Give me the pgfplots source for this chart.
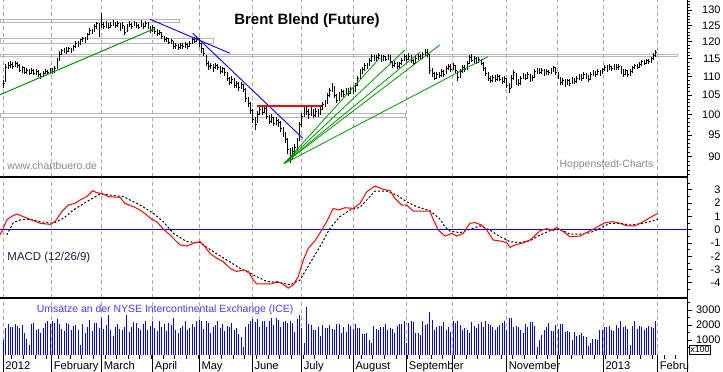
\documentclass[border=0pt]{standalone}
\usepackage{pgfplots}
\pgfplotsset{compat=1.18}
\usepackage{pgfplotstable}
\usepackage{fontspec}
\setmainfont{Liberation Sans}

\definecolor{gridc}{RGB}{175,165,180}
\definecolor{boxc}{RGB}{185,180,190}
\definecolor{trendgreen}{RGB}{0,150,0}
\definecolor{wmgray}{RGB}{135,135,150}
\definecolor{macdtext}{RGB}{30,30,80}
\definecolor{voltext}{RGB}{70,60,255}

\pgfdeclareplotmark{rtick}{%
  \pgfpathmoveto{\pgfqpoint{0pt}{0pt}}%
  \pgfpathlineto{\pgfqpoint{1.4pt}{0pt}}%
  \pgfusepathqstroke}

\pgfplotstableread{
i hi lo cl vol
0 109.1 107.0 108.0 1000
1 113.6 108.5 112.5 1780
2 114.0 112.0 113.2 2100
3 114.3 112.4 113.5 1880
4 114.0 112.0 112.8 1900
5 114.3 112.6 113.6 2050
6 114.2 112.3 113.0 1950
7 113.5 111.3 111.8 1780
8 113.0 111.0 112.4 1980
9 112.6 110.7 111.2 1450
10 112.3 110.6 111.6 1100
11 112.0 110.4 110.9 700
12 112.3 110.8 111.7 2050
13 112.0 110.3 110.8 2150
14 112.1 110.5 111.4 1700
15 111.7 110.0 110.5 1760
16 111.0 109.3 110.1 1450
17 111.5 109.9 110.9 1780
18 112.0 110.6 111.3 2150
19 111.9 110.3 111.0 2300
20 112.5 110.8 112.0 2050
21 112.3 110.7 111.4 2250
22 112.9 111.1 112.2 2150
23 115.2 112.0 114.6 2400
24 117.2 114.5 116.4 2050
25 118.0 116.2 117.3 1750
26 118.3 116.8 117.8 1600
27 118.4 116.5 117.1 2150
28 118.6 116.9 118.0 2100
29 118.3 116.8 117.3 1700
30 119.0 117.2 118.5 1950
31 120.2 118.3 119.6 2000
32 120.3 118.6 119.0 1650
33 121.0 119.0 120.6 670
34 121.6 120.0 121.0 2050
35 121.5 119.8 120.4 1450
36 122.8 120.5 122.2 1900
37 124.2 122.0 123.5 2350
38 124.0 122.3 123.0 1600
39 125.5 123.0 124.8 2150
40 126.2 124.0 125.6 2150
41 125.8 121.5 123.7 1800
42 129.0 124.2 125.5 2450
43 126.0 123.8 124.6 1750
44 126.3 124.3 125.6 2000
45 125.9 123.9 124.5 2660
46 126.0 124.2 125.2 1650
47 126.8 124.8 125.8 1300
48 126.2 124.4 125.0 1900
49 126.5 124.6 125.6 2050
50 125.8 123.2 124.0 1750
51 126.0 124.0 125.2 1700
52 125.0 122.0 123.0 1900
53 125.5 123.0 124.8 2660
54 126.4 124.5 125.4 1550
55 125.8 124.0 124.6 1900
56 126.5 124.8 125.7 2200
57 126.2 124.2 125.0 2150
58 125.6 123.8 124.4 1800
59 126.8 124.5 125.5 1700
60 125.9 124.0 124.8 2050
61 126.3 124.5 125.7 2300
62 126.0 124.0 124.8 1700
63 125.0 122.8 123.5 1950
64 125.2 123.0 124.3 2300
65 124.6 122.5 123.2 1800
66 123.8 121.8 122.6 1600
67 123.7 122.0 123.0 2250
68 123.0 120.8 121.5 1900
69 121.8 119.9 120.6 2050
70 121.6 120.0 121.0 1600
71 121.2 119.3 119.9 2150
72 121.0 119.4 120.4 2000
73 120.2 118.0 118.6 2450
74 119.8 118.0 118.9 1700
75 119.5 117.5 118.2 1450
76 119.7 117.9 119.0 1800
77 119.6 117.8 118.5 1950
78 120.0 118.2 119.2 2250
79 119.6 118.0 118.6 1700
80 120.3 118.5 119.6 1800
81 121.3 119.5 120.6 2050
82 121.4 119.7 120.2 1900
83 121.8 120.0 121.0 2250
84 121.2 118.5 119.4 2350
85 119.6 116.8 118.0 2300
86 118.2 115.9 116.6 1750
87 116.0 113.0 113.8 2250
88 114.5 111.8 112.8 2150
89 113.8 112.0 113.0 1500
90 113.5 111.4 112.4 1850
91 113.8 112.0 113.0 2000
92 113.6 111.9 112.6 2300
93 112.9 110.8 111.5 1800
94 112.8 110.9 112.2 2100
95 112.4 110.2 111.0 1600
96 111.3 108.9 109.5 1950
97 110.0 107.6 108.5 1850
98 110.2 108.0 109.3 2150
99 109.6 107.0 107.6 1700
100 108.8 106.8 108.0 1800
101 108.5 106.1 106.9 1400
102 108.5 106.6 107.8 1200
103 108.0 105.8 106.5 560
104 106.8 103.3 104.0 1900
105 104.5 101.9 102.8 2050
106 103.2 100.2 101.0 2300
107 101.5 98.0 98.8 2400
108 99.5 96.3 97.5 2200
109 100.8 97.8 100.0 2400
110 102.2 99.8 101.3 1900
111 102.0 99.8 100.6 2300
112 102.4 100.4 101.5 2300
113 101.8 98.8 99.6 1850
114 100.0 97.6 98.4 2250
115 100.2 98.0 99.2 2450
116 99.5 97.2 97.9 2000
117 99.4 97.4 98.6 2450
118 99.0 97.0 98.0 2350
119 98.3 95.8 96.6 1850
120 97.0 94.4 95.2 2200
121 95.8 93.2 94.0 2300
122 94.3 90.5 91.5 2150
123 92.0 88.5 89.6 2300
124 92.2 89.4 91.2 2150
125 92.8 90.3 92.0 1550
126 94.2 91.5 93.4 2400
127 98.2 93.5 97.5 2650
128 100.5 97.0 99.6 1800
129 102.3 99.5 101.6 780
130 102.3 99.8 100.8 3220
131 101.3 99.0 100.0 2100
132 101.8 99.6 101.2 2000
133 101.5 99.2 99.8 1650
134 101.6 99.5 100.9 1700
135 101.5 99.4 100.2 1900
136 102.0 100.0 101.4 1300
137 103.2 101.2 102.6 2000
138 103.8 102.0 103.0 1800
139 105.5 102.8 104.8 1800
140 106.9 104.5 106.2 2000
141 108.2 105.9 107.6 1750
142 107.5 104.2 105.0 1650
143 105.4 102.9 103.6 2050
144 105.8 103.4 105.0 2050
145 106.5 104.6 105.9 1500
146 106.4 104.6 105.2 1850
147 107.0 105.0 106.3 1550
148 106.8 104.8 105.5 2100
149 107.2 105.3 106.6 1950
150 107.2 105.2 105.9 1750
151 108.2 105.8 107.6 2100
152 110.2 107.5 109.5 1780
153 112.0 109.4 111.2 1780
154 112.8 110.8 112.0 1400
155 113.8 111.6 113.2 1400
156 113.8 112.0 112.6 1450
157 115.2 112.9 114.6 1000
158 116.3 114.2 115.6 780
159 116.1 114.3 114.8 1950
160 116.0 114.3 115.4 1750
161 116.6 114.8 116.0 1700
162 116.2 114.2 114.8 1900
163 116.2 114.5 115.6 1850
164 115.9 114.3 114.9 2050
165 116.4 114.7 115.8 1650
166 116.0 113.5 114.2 1800
167 114.5 112.4 113.0 1750
168 114.3 112.6 113.6 1450
169 114.0 112.2 112.8 1950
170 114.2 112.5 113.6 2050
171 115.2 113.3 114.6 2100
172 116.3 114.3 115.6 2300
173 116.0 114.1 114.7 780
174 116.6 114.8 115.8 2150
175 116.0 113.8 114.4 2250
176 115.0 113.2 113.8 2200
177 115.7 113.6 115.0 1450
178 116.4 114.6 115.8 1450
179 116.5 114.6 115.2 1350
180 117.0 115.0 116.4 2250
181 117.8 115.8 116.9 2000
182 117.9 115.6 116.2 2050
183 116.4 110.6 111.8 2850
184 112.5 109.8 110.8 2350
185 111.3 109.0 109.6 1650
186 111.2 109.2 110.6 1850
187 111.3 109.5 110.2 1950
188 112.0 110.0 111.4 1950
189 111.8 109.8 110.6 2200
190 112.9 110.6 112.3 1650
191 113.6 111.8 112.9 1850
192 113.4 111.4 112.0 1550
193 113.7 111.8 113.0 2300
194 113.2 111.0 111.8 2150
195 111.6 108.9 109.8 2300
196 112.0 109.6 111.4 2000
197 113.2 111.0 112.5 1700
198 113.3 111.4 112.0 1800
199 114.4 111.9 113.8 1700
200 116.0 113.6 115.3 1450
201 116.3 114.0 114.6 2200
202 115.7 113.9 115.0 1950
203 115.4 113.4 114.0 1800
204 115.5 113.8 114.8 2050
205 115.0 113.2 113.8 2200
206 114.0 111.5 112.2 1900
207 112.6 110.2 110.8 2300
208 111.2 108.8 109.6 2050
209 110.2 108.3 109.0 2000
210 110.4 108.6 109.8 1900
211 110.3 108.5 109.2 1650
212 110.6 108.9 109.9 1850
213 110.5 108.7 109.3 2000
214 109.9 108.0 108.6 2150
215 110.1 108.3 109.4 2300
216 109.5 107.0 107.6 1650
217 108.3 105.6 106.8 2450
218 110.4 106.9 109.5 2500
219 111.9 109.0 111.2 1900
220 111.0 107.8 108.6 1950
221 109.3 107.3 108.0 1850
222 110.2 107.8 109.6 1700
223 111.0 109.2 110.3 1500
224 110.8 109.0 109.6 2050
225 111.2 109.4 110.5 1850
226 110.6 108.6 109.2 2200
227 110.4 108.8 109.8 2200
228 112.0 109.6 111.3 1950
229 112.4 110.8 111.9 560
230 112.3 110.6 111.2 1000
231 112.4 110.8 111.8 1350
232 112.0 110.2 110.8 1700
233 112.1 110.4 111.5 1850
234 111.9 110.3 111.0 2150
235 112.5 110.6 111.8 1600
236 113.0 111.2 112.4 1600
237 112.6 110.4 111.0 2000
238 111.4 109.2 109.8 1750
239 110.0 107.8 108.4 2050
240 109.6 107.8 108.9 2100
241 109.4 107.2 108.2 1550
242 109.4 107.6 108.8 1600
243 109.2 107.4 108.2 1550
244 109.8 108.0 109.2 1000
245 109.6 108.0 108.6 1550
246 110.1 108.3 109.5 1300
247 110.8 109.0 110.2 1350
248 110.6 108.8 109.4 1500
249 111.2 109.4 110.6 1300
250 111.0 109.4 110.0 1200
251 110.4 108.6 109.2 600
252 111.2 109.0 110.6 780
253 111.8 110.2 111.2 1050
254 111.6 110.0 110.7 1100
255 112.0 110.4 111.4 1000
256 111.8 110.2 110.9 1700
257 112.4 110.6 111.9 1650
258 113.2 111.6 112.6 1900
259 113.2 111.4 112.0 1850
260 113.4 111.8 112.8 1950
261 113.0 111.5 112.2 1700
262 113.6 111.9 113.0 1600
263 113.4 111.8 112.4 2000
264 113.5 111.9 112.9 1800
265 113.0 110.8 111.6 2300
266 112.0 110.0 110.6 1900
267 112.2 110.3 111.6 1950
268 111.8 109.9 110.5 1750
269 112.0 110.2 111.3 700
270 113.0 111.0 112.4 1950
271 113.6 112.0 113.0 2300
272 113.6 112.0 112.6 1750
273 114.0 112.4 113.5 1950
274 114.8 113.0 114.2 1900
275 114.8 113.2 113.8 1650
276 115.0 113.4 114.5 1800
277 115.0 113.6 114.2 1950
278 115.6 113.9 115.0 1850
279 116.6 114.8 116.0 1800
280 117.6 115.6 116.9 2250
}\price

\pgfplotstableread{
x m
-1.5 -0.40
-0.1 0.10
1.4 0.73
3.5 1.00
5.7 1.18
8.5 0.98
11.4 0.78
15.7 0.48
20.0 0.40
22.1 0.60
25.0 1.35
27.8 1.85
30.7 1.98
32.8 2.23
35.7 2.48
38.3 2.93
40.0 2.78
42.1 2.73
45.0 2.48
50.0 2.43
52.1 1.98
55.7 1.73
58.6 1.48
61.5 1.10
63.6 0.78
65.8 0.60
68.6 0.03
71.5 -0.40
73.6 -0.78
75.8 -1.15
78.6 -1.23
81.5 -1.03
84.3 -0.90
86.5 -1.28
88.6 -1.78
91.5 -2.15
94.3 -2.40
97.2 -2.90
100.1 -3.15
102.9 -3.03
105.1 -3.15
107.2 -3.78
108.7 -4.08
111.5 -4.08
115.1 -4.08
117.3 -3.90
119.4 -4.03
122.2 -4.40
124.4 -4.15
126.5 -3.53
128.7 -2.28
130.8 -1.40
133.7 -0.83
136.6 -0.03
138.7 0.60
141.5 1.60
143.7 1.48
146.6 1.65
150.1 1.60
153.0 1.98
155.9 2.85
159.4 3.28
163.0 3.03
165.9 2.93
168.0 2.35
170.9 1.85
173.0 1.85
175.9 1.40
183.0 1.40
184.5 0.73
186.6 -0.03
189.5 -0.48
192.4 -0.28
194.5 -0.48
197.3 -0.28
200.2 0.48
202.4 0.53
205.2 0.35
207.4 -0.03
210.2 -0.78
213.1 -0.85
216.0 -0.98
217.4 -1.33
219.5 -1.15
222.4 -1.03
226.0 -0.78
230.3 -0.08
233.1 0.08
235.3 -0.03
237.4 0.15
240.3 -0.15
243.1 -0.53
247.4 -0.48
251.0 -0.15
254.6 0.18
258.2 0.53
261.7 0.60
264.6 0.48
267.5 0.28
271.0 0.28
274.6 0.60
278.2 0.98
280.8 1.23
}\macd

\pgfplotstableread{
x s
1.4 -0.40
4.2 0.53
7.1 0.73
11.4 0.78
15.7 0.60
21.4 0.48
25.7 0.85
30.0 1.48
35.7 2.10
41.4 2.68
45.7 2.60
51.4 2.48
58.6 1.85
64.3 1.23
68.6 0.60
72.9 -0.28
78.6 -0.90
84.3 -0.98
90.0 -1.65
95.8 -2.28
101.5 -2.90
107.2 -3.40
113.0 -3.90
118.7 -3.98
123.0 -4.15
127.3 -3.78
131.5 -2.53
135.8 -1.28
140.1 0.10
144.4 0.98
148.7 1.48
153.0 1.68
155.9 2.23
159.4 2.90
164.5 2.90
168.8 2.60
173.0 2.10
177.3 1.73
183.0 1.43
187.3 0.80
189.5 0.20
191.6 -0.10
195.9 -0.23
200.2 0.03
204.5 0.28
208.8 -0.03
213.1 -0.53
217.4 -0.90
221.7 -0.98
226.0 -0.83
230.3 -0.40
234.5 -0.08
238.8 0.03
243.1 -0.33
247.4 -0.33
251.7 -0.23
256.0 0.10
260.3 0.48
264.6 0.48
268.9 0.35
273.2 0.43
277.5 0.60
280.8 0.78
}\signal

\pgfplotsset{
  panel/.style={
    scale only axis, width=687bp, xmin=-1.5, xmax=293.35,
    anchor=south west,
    axis line style={draw=none},
    xtick={-0.1,20.7,42.1,64.0,84.0,106.8,128.0,150.1,173.0,192.8,216.0,237.9,257.4,280.8},
    xticklabels={}, xmajorgrids,
    major grid style={gridc, dash pattern=on 4bp off 3bp, line width=0.8bp},
    ytick pos=right, yticklabel pos=right,
    tick align=outside, major tick length=5bp, minor tick length=2.5bp,
    tick style={black, line width=0.8bp},
    minor tick style={black, line width=0.6bp},
    xtick style={draw=none},
    every tick label/.append style={font=\fontsize{11}{13}\selectfont},
    yticklabel style={anchor=east, xshift=32bp},
    clip mode=individual,
  }
}

\begin{document}
\begin{tikzpicture}
\path[use as bounding box] (0bp,0bp) rectangle (723bp,372bp);
% price panel
\begin{axis}[panel, at={(0bp,195bp)}, height=177bp,
  ymode=log, ymin=85.5, ymax=133.3,
  ytick={90,95,100,105,110,115,120,125,130},
  yticklabels={90,95,100,105,110,115,120,125,130},
  minor ytick={86,87,88,89,91,92,93,94,96,97,98,99,101,102,103,104,106,107,108,109,111,112,113,114,116,117,118,119,121,122,123,124,126,127,128,129,131,132,133}]
\addplot[boxc, line width=0.8bp] coordinates {(-1.5,125.9)(75.5,125.9)(75.5,127.0)(-1.5,127.0)(-1.5,125.9)};
\addplot[boxc, line width=0.8bp] coordinates {(-1.5,119.6)(90.3,119.6)(90.3,121.1)(-1.5,121.1)(-1.5,119.6)};
\addplot[boxc, line width=0.8bp] coordinates {(-1.5,115.6)(289.1,115.6)(289.1,116.4)(-1.5,116.4)(-1.5,115.6)};
\addplot[boxc, line width=0.8bp] coordinates {(-1.5,99.3)(172.6,99.3)(172.6,100.3)(-1.5,100.3)(-1.5,99.3)};
\pgfplotsforeachungrouped \r in {0,...,280}{%
  \pgfplotstablegetelem{\r}{hi}\of\price \let\hv\pgfplotsretval
  \pgfplotstablegetelem{\r}{lo}\of\price \let\lv\pgfplotsretval
  \edef\doit{\noexpand\addplot[black, line width=0.9bp, forget plot] coordinates {(\r,\lv) (\r,\hv)};}%
  \doit
}
\addplot[black, only marks, mark=rtick, mark options={solid, line width=0.9bp}]
  table[x=i, y=cl] {\price};
\addplot[trendgreen, line width=1bp] coordinates {(-1.5,105.1)(65.0,124.1)};
\addplot[blue, line width=0.9bp] coordinates {(62.9,127.0)(97.2,116.6)};
\addplot[blue, line width=0.9bp] coordinates {(81.2,122.6)(128.4,94.25)};
\addplot[red, line width=1.3bp] coordinates {(108.7,102.2)(136.6,102.2)};
\addplot[trendgreen, line width=0.8bp] coordinates {(120.4,88.4)(161.6,115.3)};
\addplot[trendgreen, line width=0.8bp] coordinates {(120.4,88.4)(172.3,117.6)};
\addplot[trendgreen, line width=0.8bp] coordinates {(120.4,88.4)(178.8,117.0)};
\addplot[trendgreen, line width=0.8bp] coordinates {(120.4,88.4)(187.3,119.1)};
\addplot[trendgreen, line width=0.8bp] coordinates {(120.4,88.4)(207.9,115.6)};
\end{axis}
% MACD panel
\begin{axis}[panel, at={(0bp,74bp)}, height=121bp,
  ymin=-5.14, ymax=3.96,
  ytick={-4,-3,-2,-1,0,1,2,3},
  yticklabels={-4,-3,-2,-1,0,1,2,3},
  minor ytick={-4.5,-3.5,-2.5,-1.5,-0.5,0.5,1.5,2.5,3.5}]
\addplot[blue, line width=1.1bp] coordinates {(-1.5,0)(293.35,0)};
\addplot[black, line width=1bp, dash pattern=on 2bp off 2bp] table[x=x, y=s] {\signal};
\addplot[red, line width=1bp] table[x=x, y=m] {\macd};
\end{axis}
% volume panel
\begin{axis}[panel, at={(0bp,17bp)}, height=57bp,
  ymin=0, ymax=3800,
  ytick={1000,2000,3000}, yticklabels={1000,2000,3000},
  minor ytick={500,1500,2500,3500}]
\addplot[ycomb, blue, line width=1bp] table[x=i, y=vol] {\price};
\end{axis}
\begin{scope}[x=1bp,y=1bp]
% frame lines
\draw[black, line width=1.2bp] (0,195) -- (687,195);
\draw[black, line width=1.2bp] (0,74) -- (687,74);
\draw[black, line width=1bp] (687,0) -- (687,372);
\foreach \t in {3.3,51.7,101.7,152.7,199.3,252.3,301.7,353.3,406.7,452.7,506.7,557.7,603.3,657.7}
  \draw[black, line width=0.8bp] (\t,0) -- (\t,17);
\foreach \t in {11.6,23.25,...,686}
  \draw[black, line width=0.6bp] (\t,13.5) -- (\t,17);
% month labels
\begin{scope}[every node/.style={anchor=base west, inner sep=0pt, font=\fontsize{11.2}{13}\selectfont}]
\node at (5.3,2.5) {2012};
\node at (53.7,2.5) {February};
\node at (103.7,2.5) {March};
\node at (154.7,2.5) {April};
\node at (201.3,2.5) {May};
\node at (254.3,2.5) {June};
\node at (303.7,2.5) {July};
\node at (355.3,2.5) {August};
\node at (408.7,2.5) {September};
\node at (508.7,2.5) {November};
\node at (605.3,2.5) {2013};
\node at (659.7,2.5) {Febru};
\end{scope}
% texts
\node[font=\fontsize{15}{18}\selectfont\bfseries] at (307,351) {Brent Blend (Future)};
\node[anchor=west, inner sep=0pt, text=wmgray, font=\fontsize{10.5}{12}\selectfont] at (7.3,206) {www.chartbuero.de};
\node[anchor=east, inner sep=0pt, text=wmgray, font=\fontsize{10.5}{12}\selectfont] at (653.5,207.5) {Hoppenstedt-Charts};
\node[anchor=west, inner sep=0pt, text=macdtext, font=\fontsize{11.5}{13}\selectfont] at (7.3,114) {MACD (12/26/9)};
\node[anchor=west, inner sep=0pt, text=voltext, font=\fontsize{10.5}{12}\selectfont] at (36.7,62) {Umsätze an der NYSE Intercontinental Exchange (ICE)};
\node[draw=black, fill=white, line width=0.8bp, inner sep=0pt, minimum width=21bp, minimum height=9.5bp, font=\fontsize{9}{10}\selectfont] at (700,22.3) {x100};
\end{scope}
\end{tikzpicture}
\end{document}
